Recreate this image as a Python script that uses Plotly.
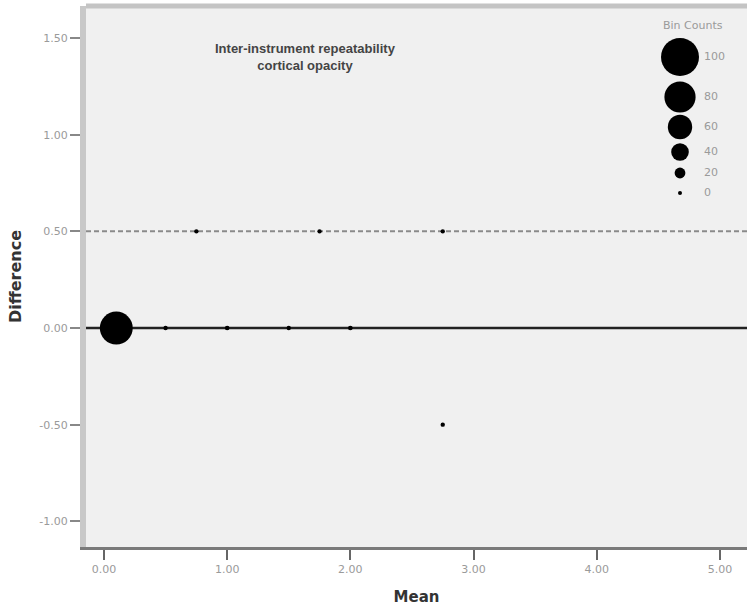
import plotly.graph_objects as go

# ---- data ----
mean_vals = [0.1, 0.5, 1.0, 1.5, 2.0, 0.75, 1.75, 2.75, 2.75]
diff_vals = [0.0, 0.0, 0.0, 0.0, 0.0, 0.5, 0.5, 0.5, -0.5]
bin_counts = [85, 1, 2, 1, 2, 1, 1, 1, 1]

legend_counts = [100, 80, 60, 40, 20, 0]
legend_labels = ["100", "80", "60", "40", "20", "0"]

x_ticks = [0, 1, 2, 3, 4, 5]
x_tick_text = ["0.00", "1.00", "2.00", "3.00", "4.00", "5.00"]
y_ticks = [-1.0, -0.5, 0.0, 0.5, 1.0, 1.5]
y_tick_text = ["-1.00", "-0.50", "0.00", "0.50", "1.00", "1.50"]


def size_of(c):
    return 4 + 0.34 * c


# plot-area geometry (pixels)
L, R, T, B = 86, 747, 6, 547
W, H = 747, 611

# legend layout positions (pixel coordinates on overlay axes)
legend_y_px = [57, 97, 127, 152, 173, 193]
legend_x_px = 680
legend_label_x_px = 704

tick_font = dict(family="DejaVu Sans", size=11, color="#9a9a9a")
title_font = dict(family="DejaVu Sans", size=15, color="#333")

fig = go.Figure()

fig.add_trace(go.Scatter(
    x=mean_vals, y=diff_vals, mode="markers",
    marker=dict(size=[size_of(c) for c in bin_counts], color="black", opacity=1, line=dict(width=0)),
    showlegend=False, hoverinfo="skip", cliponaxis=False,
))

# legend bubbles on pixel-overlay axes
fig.add_trace(go.Scatter(
    x=[legend_x_px] * len(legend_counts), y=legend_y_px, mode="markers",
    marker=dict(size=[size_of(c) for c in legend_counts], color="black", opacity=1, line=dict(width=0)),
    xaxis="x2", yaxis="y2", showlegend=False, hoverinfo="skip",
))
fig.add_trace(go.Scatter(
    x=[legend_label_x_px] * len(legend_counts), y=legend_y_px, mode="text",
    text=legend_labels, textposition="middle right",
    textfont=dict(family="DejaVu Sans", size=11, color="#9a9a9a"),
    xaxis="x2", yaxis="y2", showlegend=False, hoverinfo="skip",
))

fig.update_layout(
    width=W, height=H,
    margin=dict(l=L, r=W - R, t=T, b=H - B),
    paper_bgcolor="white",
    plot_bgcolor="#f0f0f0",
    xaxis=dict(
        range=[-0.146, 5.22], tickvals=x_ticks, ticktext=x_tick_text,
        showgrid=False, zeroline=False, automargin=False,
        showline=True, linecolor="#7a7a7a", linewidth=3,
        ticks="outside", ticklen=10, tickwidth=1.5, tickcolor="#666",
        tickfont=tick_font,
        title=dict(text="<b>Mean</b>", font=title_font, standoff=17),
    ),
    yaxis=dict(
        range=[-1.133, 1.666], tickvals=y_ticks, ticktext=y_tick_text,
        showgrid=False, zeroline=False, automargin=False,
        showline=True, linecolor="#c8c8c8", linewidth=6,
        ticks="outside", ticklen=10, tickwidth=1.5, tickcolor="#888",
        tickfont=tick_font,
        title=dict(text="<b>Difference</b>", font=dict(family="DejaVu Sans", size=16, color="#333"), standoff=16),
    ),
    xaxis2=dict(range=[L, R], overlaying="x", visible=False, fixedrange=True, automargin=False),
    yaxis2=dict(range=[B, T], overlaying="y", visible=False, fixedrange=True, automargin=False),
    shapes=[
        dict(type="line", xref="paper", x0=0, x1=1, yref="y", y0=0, y1=0,
             line=dict(color="#222", width=2.5), layer="below"),
        dict(type="line", xref="paper", x0=0, x1=1, yref="y", y0=0.5, y1=0.5,
             line=dict(color="#8a8a8a", width=2, dash="5px,3px"), layer="below"),
        dict(type="line", xref="paper", x0=0, x1=1, yref="paper", y0=1, y1=1,
             line=dict(color="#c4c4c4", width=5)),
    ],
    annotations=[
        dict(text="<b>Inter-instrument repeatability<br>cortical opacity</b>",
             xref="paper", yref="paper", x=(305 - L) / (R - L), y=(B - 57) / (B - T),
             xanchor="center", yanchor="middle", showarrow=False,
             font=dict(family="Liberation Sans", size=13, color="#444")),
        dict(text="Bin Counts", xref="paper", yref="paper", x=(693 - L) / (R - L), y=(B - 25) / (B - T),
             xanchor="center", yanchor="middle",
             showarrow=False, font=dict(family="DejaVu Sans", size=11, color="#9a9a9a")),
    ],
)

fig.write_html("out.html", config={"displayModeBar": False},
               post_script="document.body.style.margin='0';")
